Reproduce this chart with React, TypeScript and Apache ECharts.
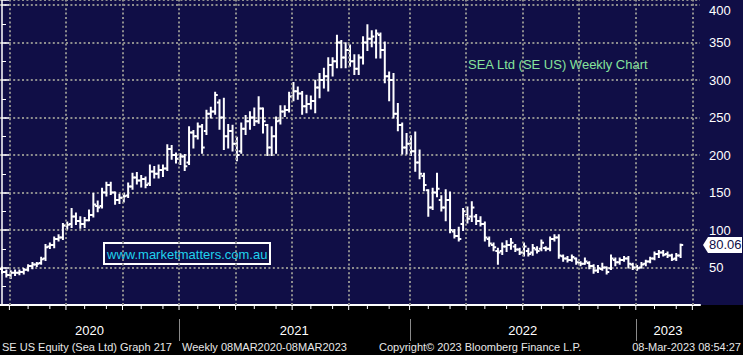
import React, { useEffect, useRef } from 'react';
import * as echarts from 'echarts';

// Weekly bars (index 0 = week of 13-Mar-2020, index 156 = week of 08-Mar-2023)
const opens = [
  48, 44, 40, 43, 43, 44, 47, 52, 54, 56,
  62, 78, 80, 88, 90, 106, 108, 118, 112, 108,
  113, 120, 132, 132, 150, 160, 150, 140, 143, 146,
  158, 170, 166, 168, 162, 178, 175, 180, 182, 208,
  200, 195, 198, 190, 230, 225, 238, 232, 255, 258,
  270, 250, 225, 232, 215, 205, 235, 245, 250, 245,
  262, 240, 210, 225, 246, 258, 260, 278, 285, 282,
  265, 268, 272, 290, 300, 305, 320, 325, 350, 330,
  340, 325, 315, 330, 350, 355, 350, 360, 340, 305,
  300, 255, 240, 210, 215, 205, 190, 172, 153, 130,
  150, 140, 130, 140, 98, 92, 108, 120, 118, 118,
  112, 108, 88, 80, 72, 72, 78, 80, 78, 74,
  70, 72, 70, 74, 75, 76, 75, 88, 90, 65,
  62, 60, 62, 56, 55, 56, 52, 46, 48, 50,
  49, 60, 57, 60, 62, 54, 50, 50, 55, 58,
  62, 68, 70, 68, 66, 62, 66,
];
const highs = [
  50, 46, 45, 46, 46, 48, 53, 56, 56, 63,
  80, 82, 90, 93, 108, 110, 128, 122, 117, 116,
  126, 148, 138, 155, 163, 163, 150, 147, 148, 162,
  175, 176, 172, 170, 186, 184, 186, 186, 213, 212,
  202, 201, 200, 237, 232, 242, 240, 259, 263, 283,
  273, 275, 240, 239, 223, 242, 252, 257, 262, 277,
  262, 240, 237, 250, 265, 265, 283, 296, 290, 284,
  279, 278, 299, 308, 315, 329, 329, 359, 352, 349,
  346, 333, 333, 357, 373, 365, 366, 362, 350, 310,
  308, 268, 242, 228, 225, 230, 206, 175, 153, 155,
  175, 145, 153, 150, 100, 103, 128, 130, 137, 120,
  117, 110, 90, 82, 75, 82, 85, 88, 80, 75,
  82, 75, 80, 77, 86, 77, 90, 93, 93, 66,
  64, 66, 62, 57, 62, 57, 53, 52, 55, 50,
  66, 62, 62, 64, 64, 55, 52, 56, 59, 63,
  70, 72, 72, 70, 67, 68, 80.5,
];
const lows = [
  43, 38, 36, 40, 41, 42, 46, 49, 52, 55,
  60, 76, 77, 86, 88, 102, 104, 108, 103, 104,
  113, 118, 125, 130, 146, 148, 135, 136, 138, 144,
  155, 162, 158, 157, 160, 170, 170, 172, 180, 195,
  190, 188, 180, 188, 210, 222, 203, 228, 250, 255,
  235, 208, 210, 206, 193, 203, 228, 235, 240, 243,
  230, 200, 200, 203, 242, 252, 258, 273, 275, 255,
  257, 262, 257, 277, 290, 286, 306, 317, 317, 317,
  319, 308, 308, 322, 340, 345, 330, 330, 297, 273,
  250, 233, 202, 202, 200, 179, 169, 153, 119, 128,
  145, 126, 113, 97, 90, 86, 100, 110, 112, 108,
  106, 86, 79, 73, 55, 68, 72, 75, 72, 68,
  66, 66, 67, 70, 73, 73, 73, 86, 63, 59,
  58, 59, 55, 53, 55, 49, 43, 44, 47, 42,
  48, 53, 55, 59, 50, 48, 47, 50, 53, 57,
  61, 64, 66, 64, 60, 60, 64,
];
const closes = [
  44, 40, 43, 43, 44, 47, 52, 54, 55, 61,
  77, 80, 88, 90, 106, 107, 118, 112, 108, 113,
  120, 134, 130, 150, 160, 150, 140, 143, 145, 158,
  170, 166, 168, 160, 178, 175, 180, 182, 208, 200,
  195, 198, 185, 230, 225, 238, 210, 255, 258, 280,
  250, 225, 232, 215, 200, 235, 245, 250, 245, 262,
  245, 210, 225, 245, 258, 260, 278, 285, 282, 265,
  268, 272, 290, 300, 305, 320, 325, 350, 330, 340,
  325, 315, 330, 350, 355, 358, 362, 340, 305, 300,
  255, 240, 210, 215, 205, 190, 175, 160, 130, 150,
  155, 130, 140, 100, 92, 88, 125, 115, 130, 112,
  108, 90, 82, 77, 70, 78, 80, 83, 74, 70,
  78, 68, 76, 72, 83, 75, 88, 90, 66, 62,
  60, 64, 57, 55, 58, 52, 46, 49, 50, 44,
  62, 57, 60, 62, 55, 50, 49, 54, 58, 62,
  68, 70, 67, 66, 61, 66, 80.06,
];

// Quarter starts (in week-index units) where the dotted vertical grid lines sit
const quarterLines = [1.7, 14.7, 27.7, 40.7, 53.7, 66.7, 79.7, 93.7, 106.7, 119.7, 132.7, 145.7, 158.7];
const monthOffsets = [0, 4.3, 9.3];
const yearStarts = [40.7, 93.7, 145.7];
const yearLabels = ['2020', '2021', '2022', '2023'];
const xMin = -0.46;
const xMax = 160.46;
const lastPrice = 80.06;

const titleText = 'SEA Ltd (SE US) Weekly Chart';
const siteText = 'www.marketmatters.com.au';
const footer1 = 'SE US Equity (Sea Ltd) Graph 217';
const footer2 = 'Weekly 08MAR2020-08MAR2023';
const footer3 = 'Copyright\u00A9 2023 Bloomberg Finance L.P.';
const footer4 = '08-Mar-2023 08:54:27';

const W = 743;
const H = 355;
const NAVY = '#100e46';
const FONT = '"Liberation Sans", Arial, sans-serif';
const GRID_STYLE = { color: '#8e8e8e', type: [2, 2.4] as any, width: 2 };

export default function App() {
  const ref = useRef<HTMLDivElement>(null);

  useEffect(() => {
    const el = ref.current!;
    const chart = echarts.init(el, null, { renderer: 'svg', width: W, height: H });
    const data = opens.map((o, i) => [i, o, highs[i], lows[i], closes[i]]);

    const renderItem = (params: any, api: any) => {
      const i = api.value(0);
      const o = api.coord([i, api.value(1)]);
      const h = api.coord([i, api.value(2)]);
      const l = api.coord([i, api.value(3)]);
      const c = api.coord([i, api.value(4)]);
      const st = { stroke: '#ffffff', lineWidth: 2 };
      return {
        type: 'group',
        children: [
          { type: 'line', shape: { x1: h[0], y1: h[1] - 1, x2: l[0], y2: l[1] + 1 }, style: st },
          { type: 'line', shape: { x1: o[0] - 2.6, y1: o[1], x2: o[0], y2: o[1] }, style: st },
          { type: 'line', shape: { x1: c[0], y1: c[1], x2: c[0] + 2.6, y2: c[1] }, style: st },
        ],
      };
    };

    chart.setOption({
      animation: false,
      backgroundColor: 'transparent',
      grid: { left: 0, top: 0, width: 700, height: 305 },
      xAxis: {
        type: 'value',
        min: xMin,
        max: xMax,
        axisLine: { show: true, onZero: false, lineStyle: { color: '#ffffff', width: 2 } },
        axisTick: { show: false },
        axisLabel: { show: false },
        splitLine: { show: false },
      },
      yAxis: {
        type: 'value',
        position: 'right',
        min: 0,
        max: 406.7,
        interval: 50,
        axisLine: { show: true, lineStyle: { color: '#ffffff', width: 1.5 } },
        axisTick: { show: true, length: 7, lineStyle: { color: '#ffffff', width: 1.5 } },
        minorTick: { show: true, splitNumber: 2, length: 4, lineStyle: { color: '#ffffff', width: 1 } },
        axisLabel: {
          color: '#ffffff',
          fontSize: 13,
          fontFamily: FONT,
          margin: 9,
          formatter: (v: number) => (v > 0 && v % 50 === 0 ? (v === 400 ? '{t|400}' : String(v)) : ''),
          rich: { t: { padding: [11, 0, 0, 0], fontSize: 13, color: '#ffffff', fontFamily: FONT } },
        },
        splitLine: { show: true, lineStyle: GRID_STYLE },
      },
      series: [
        {
          type: 'custom',
          renderItem,
          data,
          encode: { x: 0, y: [1, 2, 3, 4] },
          clip: true,
          z: 3,
          markLine: {
            silent: true,
            symbol: ['none', 'none'],
            label: { show: false },
            lineStyle: GRID_STYLE,
            data: quarterLines.map((v) => ({ xAxis: v })),
          },
        },
      ],
    });

    const px = (v: number) => chart.convertToPixel({ xAxisIndex: 0 }, v) as number;
    const py = (v: number) => chart.convertToPixel({ yAxisIndex: 0 }, v) as number;
    const axisY = py(0);

    const g: any[] = [];
    // month ticks on the time axis
    quarterLines.forEach((q) => {
      monthOffsets.forEach((off, k) => {
        const v = q + off;
        if (v > xMax) return;
        const x = px(v);
        g.push({
          type: 'line', silent: true,
          shape: { x1: x, y1: axisY, x2: x, y2: axisY + (k === 0 ? 5 : 4) },
          style: { stroke: '#ffffff', lineWidth: 1 },
        });
      });
    });
    // year separators
    yearStarts.forEach((v) => {
      const x = Math.round(px(v)) + 0.5;
      g.push({
        type: 'line', silent: true,
        shape: { x1: x, y1: 319, x2: x, y2: 341 },
        style: { stroke: '#8a8a8a', lineWidth: 1 },
      });
    });
    // year labels, centered in the visible part of each year
    const bounds = [xMin, ...yearStarts, xMax];
    yearLabels.forEach((lab, k) => {
      const cx = (px(bounds[k]) + px(bounds[k + 1])) / 2;
      g.push({
        type: 'text', silent: true, x: cx, y: 330,
        style: { text: lab, fill: '#ffffff', font: `13px ${FONT}`, align: 'center', verticalAlign: 'middle' },
      });
    });
    // title and watermark
    g.push({
      type: 'text', silent: true, x: 468, y: 64,
      style: { text: titleText, fill: '#86e39c', font: `13px ${FONT}`, verticalAlign: 'middle' },
    });
    g.push({
      type: 'rect', silent: true,
      shape: { x: 104, y: 243, width: 166, height: 21 },
      style: { fill: 'none', stroke: '#ffffff', lineWidth: 2 },
    });
    g.push({
      type: 'text', silent: true, x: 107, y: 254,
      style: { text: siteText, fill: '#1fd3ee', font: `13px ${FONT}`, verticalAlign: 'middle' },
    });
    // last price tag
    const ty = py(lastPrice);
    g.push({
      type: 'polygon', silent: true,
      shape: { points: [[703, ty], [708, ty - 8], [742, ty - 8], [742, ty + 8], [708, ty + 8]] },
      style: { fill: '#ffffff' },
    });
    g.push({
      type: 'text', silent: true, x: 709, y: ty,
      style: { text: lastPrice.toFixed(2), fill: '#100e46', font: `13px ${FONT}`, verticalAlign: 'middle' },
    });
    // footer
    const fstyle = (text: string, align: string) => ({ text, fill: '#e8e8e8', font: `11px ${FONT}`, align, verticalAlign: 'middle' });
    g.push({ type: 'text', silent: true, x: 2, y: 347, style: fstyle(footer1, 'left') });
    g.push({ type: 'text', silent: true, x: 182, y: 347, style: fstyle(footer2, 'left') });
    g.push({ type: 'text', silent: true, x: 379, y: 347, style: fstyle(footer3, 'left') });
    g.push({ type: 'text', silent: true, x: 741, y: 347, style: fstyle(footer4, 'right') });

    chart.setOption({ graphic: { elements: g } });

    return () => chart.dispose();
  }, []);

  return (
    <div
      ref={ref}
      style={{
        position: 'fixed',
        left: 0,
        top: 0,
        width: W,
        height: H,
        background: `linear-gradient(${NAVY} 0px, ${NAVY} 305px, #000000 305px, #000000 ${H}px)`,
      }}
    />
  );
}
